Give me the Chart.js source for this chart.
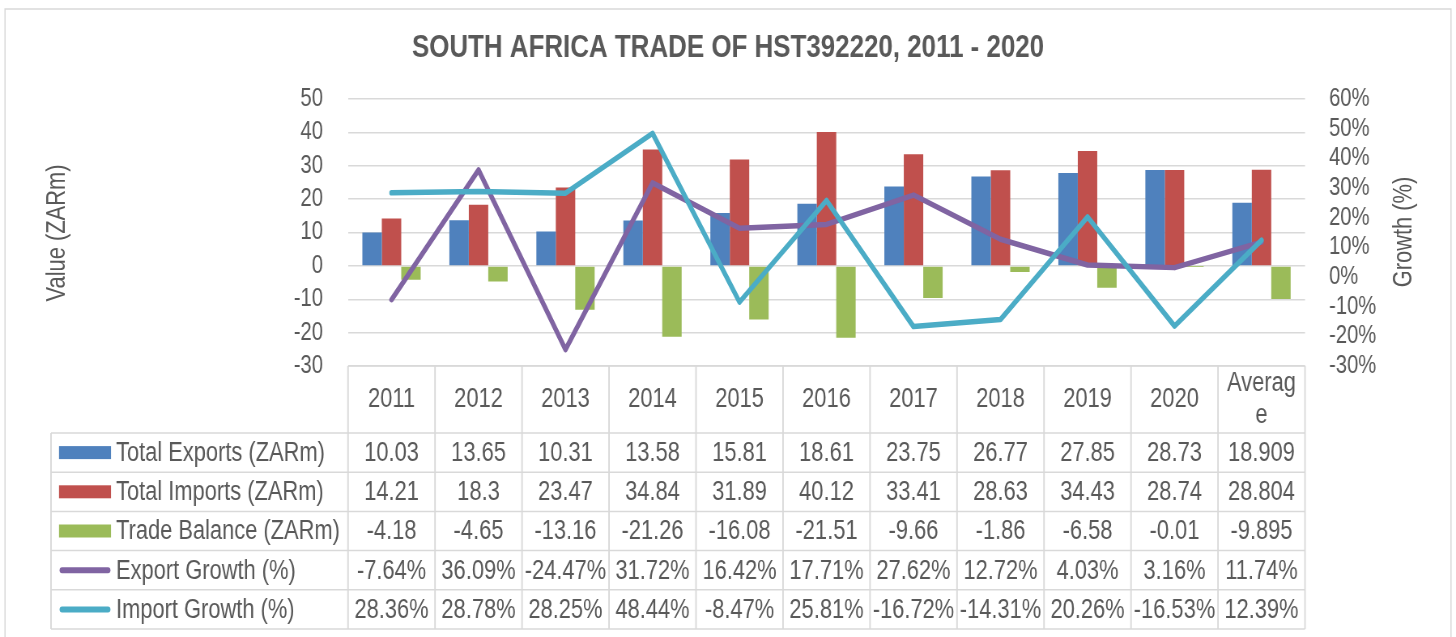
<!DOCTYPE html>
<html>
<head>
<meta charset="utf-8">
<script src="https://cdn.jsdelivr.net/npm/chart.js@4.4.0/dist/chart.umd.min.js"></script>
<style>
  html, body { margin: 0; padding: 0; background: #fff; }
  #wrap { width: 1456px; height: 637px; overflow: hidden; }
  #chart { display: block; transform-origin: 0 0; }
</style>
</head>
<body>
<div id="wrap"><canvas id="chart"></canvas></div>
<script>
const years = ["2011", "2012", "2013", "2014", "2015", "2016", "2017", "2018", "2019", "2020", ["Averag", "e"]];
const totalExports = [10.03, 13.65, 10.31, 13.58, 15.81, 18.61, 23.75, 26.77, 27.85, 28.73, 18.909];
const totalImports = [14.21, 18.3, 23.47, 34.84, 31.89, 40.12, 33.41, 28.63, 34.43, 28.74, 28.804];
const tradeBalance = [-4.18, -4.65, -13.16, -21.26, -16.08, -21.51, -9.66, -1.86, -6.58, -0.01, -9.895];
const exportGrowth = [-7.64, 36.09, -24.47, 31.72, 16.42, 17.71, 27.62, 12.72, 4.03, 3.16, 11.74];
const importGrowth = [28.36, 28.78, 28.25, 48.44, -8.47, 25.81, -16.72, -14.31, 20.26, -16.53, 12.39];

// the original uses a narrow font; draw wide and squeeze the canvas horizontally
const W = 1798;
const SX = 1456 / W;
const px = (v) => v / SX;

const canvas = document.querySelector("#chart");
canvas.width = W;
canvas.height = 637;
canvas.style.transform = `scaleX(${SX})`;

const FONT = "'Liberation Sans', Arial, sans-serif";
const GREY = "#595959";
const LINE = "#D9D9D9";

Chart.defaults.font.family = FONT;
Chart.defaults.color = GREY;

// rotated text gets squeezed across its height, so squeeze its length instead
function verticalText(ctx, text, x, y) {
  ctx.save();
  ctx.translate(x, y);
  ctx.rotate(-Math.PI / 2);
  ctx.scale(SX, 1 / SX);
  ctx.fillText(text, 0, 0);
  ctx.restore();
}

// frame + axis titles + data table under the plot
const tablePlugin = {
  id: "dataTable",
  beforeDraw(chart) {
    const ctx = chart.ctx;
    ctx.save();
    ctx.fillStyle = "#fff";
    ctx.fillRect(0, 0, chart.width, chart.height);
    ctx.strokeStyle = LINE;
    ctx.lineWidth = 1.5;
    ctx.strokeRect(px(5), 9, px(1446), 700);
    ctx.restore();
  },
  afterDraw(chart) {
    const ctx = chart.ctx;
    const x = chart.scales.x;
    const area = chart.chartArea;
    const n = years.length;
    const step = x.getPixelForValue(1) - x.getPixelForValue(0);
    const left = x.getPixelForValue(0) - step / 2;
    const right = left + step * n;
    const top = area.bottom;
    const headBot = top + 67;
    const rowH = 39.2;
    const tableLeft = px(51);
    const bottom = headBot + rowH * 5;

    ctx.save();
    ctx.strokeStyle = LINE;
    ctx.lineWidth = 1.5;
    ctx.beginPath();
    ctx.moveTo(left, top);
    ctx.lineTo(right, top);
    for (let r = 0; r <= 5; r++) {
      const y = headBot + r * rowH;
      ctx.moveTo(tableLeft, y);
      ctx.lineTo(right, y);
    }
    ctx.stroke();
    ctx.lineWidth = 1.5 / SX;
    ctx.beginPath();
    for (let i = 0; i <= n; i++) {
      const xx = left + i * step;
      ctx.moveTo(xx, top);
      ctx.lineTo(xx, bottom);
    }
    ctx.moveTo(tableLeft, headBot);
    ctx.lineTo(tableLeft, bottom);
    ctx.stroke();

    ctx.fillStyle = GREY;
    ctx.font = "27px " + FONT;
    ctx.textAlign = "center";
    ctx.textBaseline = "middle";
    years.forEach((lab, i) => {
      const lines = [].concat(lab);
      const cx = x.getPixelForValue(i);
      const cy = (top + headBot) / 2;
      lines.forEach((t, k) => {
        ctx.fillText(t, cx, cy + (k - (lines.length - 1) / 2) * 32);
      });
    });

    chart.data.datasets.forEach((ds, r) => {
      const cy = headBot + r * rowH + rowH / 2;
      if (ds.type === "line") {
        ctx.strokeStyle = ds.borderColor;
        ctx.lineWidth = 6;
        ctx.lineCap = "round";
        ctx.beginPath();
        ctx.moveTo(px(62), cy);
        ctx.lineTo(px(108), cy);
        ctx.stroke();
      } else {
        ctx.fillStyle = ds.backgroundColor;
        ctx.fillRect(px(59), cy - 6.5, px(52), 13);
      }
      ctx.fillStyle = GREY;
      ctx.textAlign = "left";
      ctx.fillText(ds.label, px(116), cy + 1);
      ctx.textAlign = "center";
      ds.data.forEach((v, i) => {
        const txt = ds.type === "line" ? v.toFixed(2) + "%" : String(v);
        ctx.fillText(txt, x.getPixelForValue(i), cy + 1);
      });
    });

    // axis titles, both reading bottom to top
    verticalText(ctx, "Value (ZARm)", px(57), 233);
    verticalText(ctx, "Growth (%)", px(1404), 232);
    ctx.restore();
  },
};

new Chart(canvas, {
  data: {
    labels: years,
    datasets: [
      { type: "bar", label: "Total Exports (ZARm)", data: totalExports, backgroundColor: "#4F81BD", yAxisID: "y", order: 3 },
      { type: "bar", label: "Total Imports (ZARm)", data: totalImports, backgroundColor: "#C0504D", yAxisID: "y", order: 3 },
      { type: "bar", label: "Trade Balance (ZARm)", data: tradeBalance, backgroundColor: "#9BBB59", yAxisID: "y", order: 3 },
      {
        type: "line", label: "Export Growth (%)", data: exportGrowth, borderColor: "#8064A2",
        borderWidth: 5.5, pointRadius: 0, tension: 0, borderJoinStyle: "round", borderCapStyle: "round", yAxisID: "y2", order: 2,
      },
      {
        type: "line", label: "Import Growth (%)", data: importGrowth, borderColor: "#4BACC6",
        borderWidth: 5.5, pointRadius: 0, tension: 0, borderJoinStyle: "round", borderCapStyle: "round", yAxisID: "y2", order: 1,
      },
    ],
  },
  options: {
    responsive: false,
    animation: false,
    devicePixelRatio: 1,
    layout: { padding: { top: 0, bottom: 271, left: 0, right: 0 } },
    datasets: { bar: { categoryPercentage: 0.67, barPercentage: 1.0, borderWidth: 0 } },
    plugins: {
      legend: { display: false },
      tooltip: { enabled: false },
      title: {
        display: true,
        text: "SOUTH AFRICA TRADE OF HST392220, 2011 - 2020",
        color: GREY,
        font: { size: 32, weight: "bold" },
        padding: { top: 29, bottom: 31.6 },
      },
    },
    scales: {
      x: { display: false, offset: true },
      y: {
        position: "left",
        min: -30,
        max: 50,
        ticks: { stepSize: 10, autoSkip: false, padding: px(25), font: { size: 25 }, color: GREY },
        grid: { color: LINE, lineWidth: 1.5, drawTicks: false },
        border: { display: false },
        afterFit: (scale) => { scale.width = px(348); },
      },
      y2: {
        position: "right",
        min: -30,
        max: 60,
        ticks: { stepSize: 10, autoSkip: false, padding: px(24), font: { size: 25 }, color: GREY, callback: (v) => v + "%" },
        grid: { display: false, drawTicks: false },
        border: { display: false },
        afterFit: (scale) => { scale.width = W - px(1305); },
      },
    },
  },
  plugins: [tablePlugin],
});
</script>
</body>
</html>
